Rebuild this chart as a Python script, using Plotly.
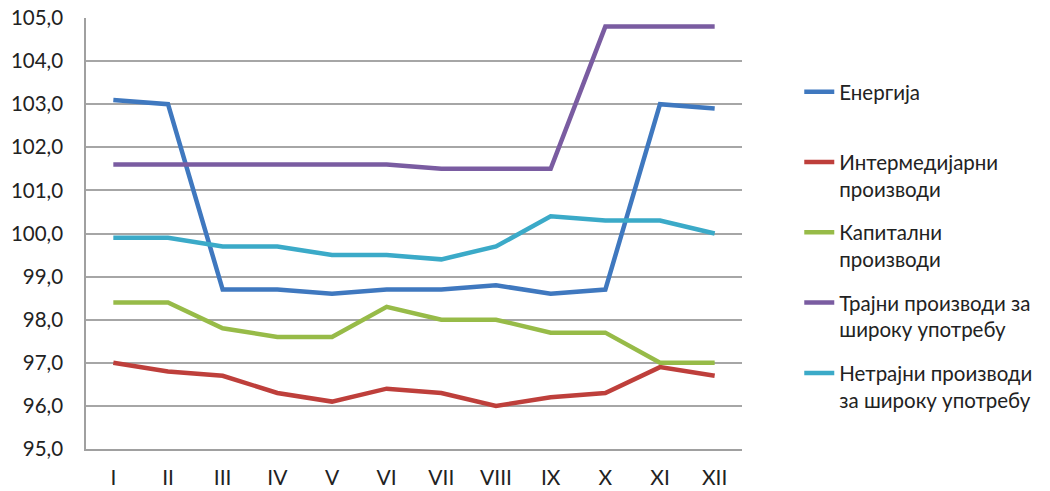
import plotly.graph_objects as go

months = ["I", "II", "III", "IV", "V", "VI", "VII", "VIII", "IX", "X", "XI", "XII"]
energija = [103.1, 103.0, 98.7, 98.7, 98.6, 98.7, 98.7, 98.8, 98.6, 98.7, 103.0, 102.9]
intermedijarni = [97.0, 96.8, 96.7, 96.3, 96.1, 96.4, 96.3, 96.0, 96.2, 96.3, 96.9, 96.7]
kapitalni = [98.4, 98.4, 97.8, 97.6, 97.6, 98.3, 98.0, 98.0, 97.7, 97.7, 97.0, 97.0]
trajni = [101.6, 101.6, 101.6, 101.6, 101.6, 101.6, 101.5, 101.5, 101.5, 104.8, 104.8, 104.8]
netrajni = [99.9, 99.9, 99.7, 99.7, 99.5, 99.5, 99.4, 99.7, 100.4, 100.3, 100.3, 100.0]

names = ["Енергија<br> ", "Интермедијарни<br>производи", "Капитални<br>производи",
         "Трајни производи за<br>широку употребу", "Нетрајни производи<br>за широку употребу"]
series = [energija, intermedijarni, kapitalni, trajni, netrajni]
colors = ["#3F78BF", "#BE3F3B", "#97BB48", "#7A5CA1", "#3BAAC8"]

FONT = "Lato"

fig = go.Figure()
for i, (nm, ys, c) in enumerate(zip(names, series, colors)):
    fig.add_trace(go.Scatter(x=months, y=ys, name=nm, mode="lines",
                             line=dict(color=c, width=4.5), legendgroup=str(i)))

fig.update_layout(
    width=1050, height=491,
    paper_bgcolor="white", plot_bgcolor="white",
    margin=dict(l=86, r=300, t=18, b=42),
    separators=", ",
    font=dict(family=FONT, size=18, color="#222222"),
    showlegend=True,
    legend=dict(x=1.0873, y=0.875, xanchor="left", yanchor="top", valign="top",
                tracegroupgap=14, font=dict(family=FONT, size=20.5, color="#222222"),
                bgcolor="rgba(0,0,0,0)"),
    xaxis=dict(type="category", range=[-0.5, 11.5], showgrid=False, showline=True,
               linecolor="#A0A0A0", linewidth=1.5, ticks="", ticklabelstandoff=9,
               automargin=False, ticklabeloverflow="allow",
               tickfont=dict(family=FONT, size=21, color="#222222")),
    yaxis=dict(range=[95, 105], dtick=1, tickformat=".1f", showgrid=True,
               gridcolor="#A6A6A6", gridwidth=1.5, showline=True, linecolor="#A0A0A0",
               linewidth=1.5, ticks="", zeroline=False, ticklabelstandoff=17,
               automargin=False, ticklabeloverflow="allow",
               tickfont=dict(family=FONT, size=20.5, color="#222222")),
)

fig.write_html("out.html", config={"displayModeBar": False},
               post_script="document.body.style.margin='0';")
